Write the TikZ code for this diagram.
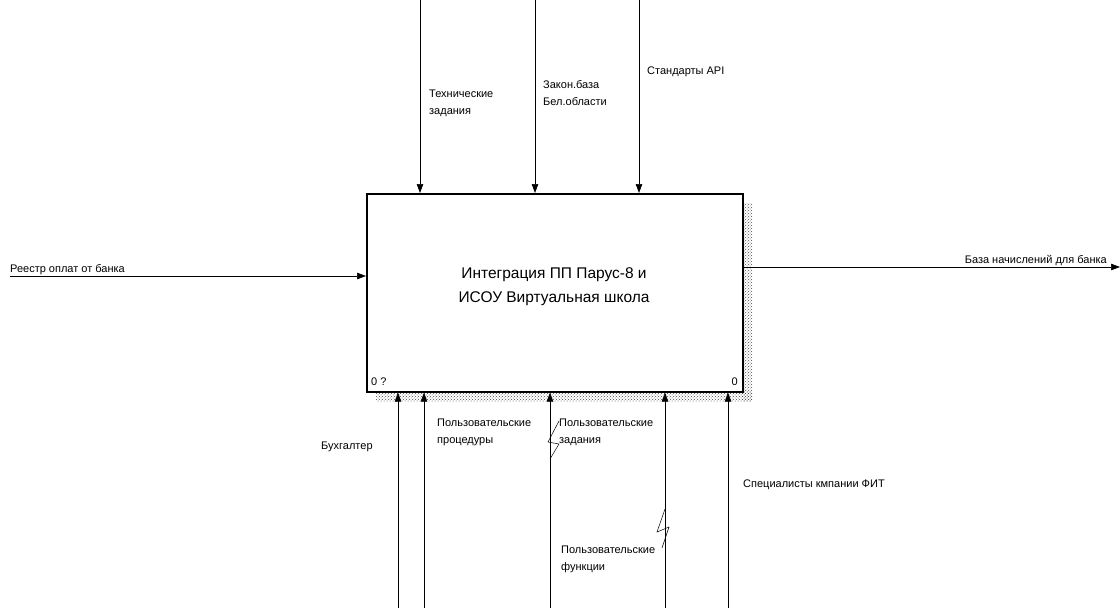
\documentclass[tikz,border=0pt]{standalone}
\usepackage{fontspec}
\setmainfont{Liberation Sans}
\usetikzlibrary{arrows.meta,patterns}
\begin{document}
\begin{tikzpicture}[x=1pt,y=-1pt,
  arr/.style={line width=0.6pt,-{Triangle[length=9pt,width=6.5pt]}},
  lbl/.style={font=\fontsize{11}{16.5}\selectfont,inner sep=0pt},
  lblw/.style={lbl,anchor=base west,align=left},
  sq/.style={line width=0.5pt}]
\useasboundingbox (0,0) rectangle (1120,608);
% shadow
\fill[pattern=crosshatch dots,pattern color=black!70] (742,203) rectangle (752,401);
\fill[pattern=crosshatch dots,pattern color=black!70] (376,391) rectangle (752,401);
% main box
\node[draw,line width=1.6pt,fill=white,minimum width=376pt,minimum height=198pt,inner sep=0pt,anchor=north west] (main) at (366,193) {};
\node[inner sep=0pt,anchor=base,align=center,font=\fontsize{15.5}{24}\selectfont] (title) at (554,302) {Интеграция ПП Парус-8 и\\ИСОУ Виртуальная школа};
\node[lbl,anchor=base west] (n0q) at (371,385) {0 ?};
\node[lbl,anchor=base east] (n0) at (738,385) {0};
% top controls
\coordinate (t1) at (420,0);
\coordinate (t2) at (535,0);
\coordinate (t3) at (639,0);
\draw[arr] (t1) -- (t1 |- main.north);
\draw[arr] (t2) -- (t2 |- main.north);
\draw[arr] (t3) -- (t3 |- main.north);
\node[lblw] (lt1) at (429,114) {Технические\\задания};
\node[lblw] (lt2) at (543,105) {Закон.база\\Бел.области};
\node[lblw] (lt3) at (647,74) {Стандарты API};
% input
\coordinate (in) at (10,276);
\draw[arr] (in) -- (in -| main.west);
\node[lblw] (lin) at (10,272) {Реестр оплат от банка};
% output
\coordinate (out) at (1120,267);
\draw[arr] (out -| main.east) -- (out);
\node[lbl,anchor=base east] (lout) at (1107,263) {База начислений для банка};
% bottom mechanisms
\coordinate (b1) at (398,608);
\coordinate (b2) at (424,608);
\coordinate (b3) at (550,608);
\coordinate (b4) at (665,608);
\coordinate (b5) at (728,608);
\foreach \b in {b1,b2,b3,b4,b5} \draw[arr] (\b) -- (\b |- main.south);
\node[lblw] (lb1) at (321,449) {Бухгалтер};
\node[lblw] (lb2) at (437,443) {Пользовательские\\процедуры};
\node[lblw] (lb3) at (559,443) {Пользовательские\\задания};
\node[lblw] (lb4) at (561,570) {Пользовательские\\функции};
\node[lblw] (lb5) at (743,487) {Специалисты кмпании ФИТ};
% squiggles
\coordinate (s3) at (550,459);
\coordinate (e3) at (559,421);
\draw[sq] (e3) -- (548,442) -- (559,444) -- (s3);
\coordinate (s4) at (665,509);
\coordinate (e4) at (662,548);
\draw[sq] (s4) -- (657,532) -- (669,527) -- (e4);
\end{tikzpicture}
\end{document}
